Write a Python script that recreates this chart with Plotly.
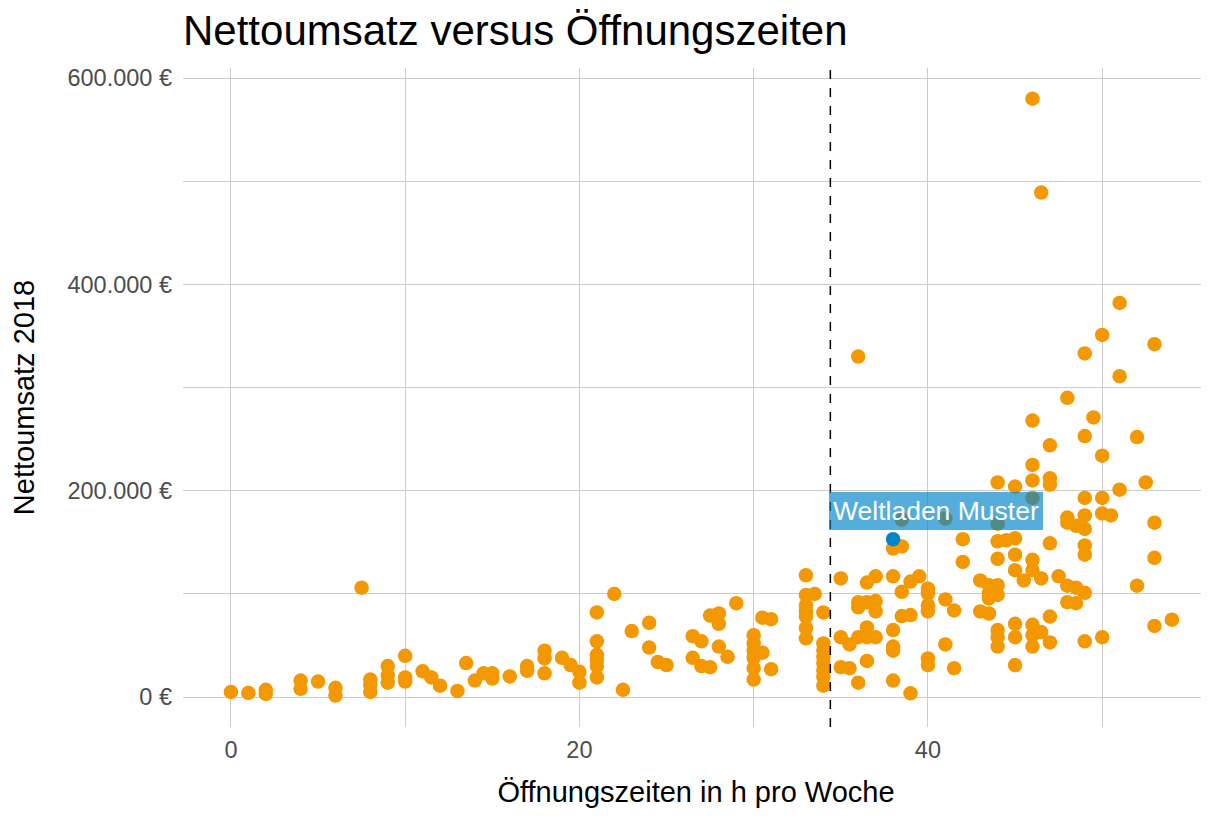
import plotly.graph_objects as go

# ---- data (hours per week, net sales 2018 in thousand €) ----
hours = [
    0, 1, 2, 2, 4, 4, 5, 6, 6, 7.5, 8, 8, 8, 9, 9, 9, 10, 10, 10, 11, 11.5, 12, 13, 13.5,
    14, 14.5, 15, 15, 16, 17, 17, 18, 18, 18, 19, 19.5, 20, 20,
    21, 21, 21, 21, 21, 21, 22, 22.5, 23, 24, 24, 24.5, 25, 26.5, 26.5, 27, 27,
    27.5, 27.5, 28, 28, 28, 28.5, 29,
    30, 30, 30, 30, 30, 30, 30.5, 30.5, 31, 31,
    33, 33, 33, 33, 33, 33, 33, 33.5,
    34, 34, 34, 34, 34, 34, 34, 34,
    35, 35, 35, 35.5, 35.5,
    36, 36, 36, 36, 36, 36.5, 36.5, 36.5, 36.5, 36.5,
    37, 37, 37, 37, 38, 38, 38, 38, 38, 38,
    38.5, 38.5, 38.5, 38.5, 39, 39, 39, 39.5,
    40, 40, 40, 40, 40, 40, 41, 41, 41, 41.5, 41.5, 42, 42, 43, 43,
    43.5, 43.5, 43.5, 43.5,
    44, 44, 44, 44, 44, 44, 44, 44, 44, 44.5,
    45, 45, 45, 45, 45, 45, 45, 45.5,
    46, 46, 46, 46, 46, 46, 46, 46, 46, 46, 46.5, 46.5, 46.5,
    47, 47, 47, 47, 47, 47, 47.5,
    48, 48, 48, 48, 48, 48.5, 48.5, 48.5,
    49, 49, 49, 49, 49, 49, 49, 49, 49, 49.5,
    50, 50, 50, 50, 50, 50.5, 51, 51, 51, 52, 52, 52.5,
    53, 53, 53, 53, 54,
]
sales_k = [
    5, 4, 7, 3, 16, 8, 15, 9, 1.5, 106, 17, 12, 5, 30, 21, 14, 40, 19, 15, 25, 19, 11, 6, 33,
    16, 23, 23, 18, 20, 30, 25.5, 45, 37.5, 23, 38, 31, 24.5, 14,
    82, 54, 41, 36, 30, 19, 100, 7, 64, 72, 48, 34, 31, 59, 38, 54, 30,
    79, 29, 81, 71, 49, 39, 91,
    60, 52, 45, 38, 28, 17, 77, 43, 75.5, 27,
    118, 99, 89, 83, 78, 67, 57, 100,
    82, 52, 45.5, 39, 32.6, 26, 19.7, 11,
    115, 58, 29, 51, 28,
    330, 92, 87, 58, 14, 111, 92, 67.5, 58, 35,
    117, 93, 83, 58, 144, 117, 65, 49, 45, 16,
    172, 146, 102, 78.5, 112, 79.5, 3.6, 117,
    105, 100.5, 89, 83, 37.5, 31, 173, 94.6, 51, 84, 28, 153, 131, 113, 83,
    108.5, 100.5, 95.6, 81,
    208, 168, 151, 134, 108.5, 99, 65, 58, 49, 152,
    204, 154, 138, 123, 71, 58, 31, 113,
    580, 268, 225, 210, 193, 133, 123, 70, 60, 49, 489, 115, 63,
    244, 212, 206, 149, 78, 53, 117,
    290, 174, 169, 108, 92, 166, 106, 91,
    333, 253, 193, 176, 163, 147, 138, 101, 54, 271,
    351, 234, 193, 178, 58, 176, 382, 311, 201, 252, 108, 208,
    342, 169, 135, 69, 75,
]
sales = [v * 1000 for v in sales_k]

highlight_name = "Weltladen Muster"
highlight_hours = 38
highlight_sales = 153000

mean_hours = 34.4

x_ticks = [0, 20, 40]
y_ticks = [0, 200000, 400000, 600000]
y_tick_labels = ["0 €", "200.000 €", "400.000 €", "600.000 €"]

ORANGE = "#F39800"
BLUE = "#0084C8"
FONT = "Liberation Sans, Arial, sans-serif"
GRID = "#CCCCCC"

W, H = 1201, 800

fig = go.Figure()
fig.add_trace(go.Scatter(
    x=hours, y=sales, mode="markers",
    marker=dict(color=ORANGE, size=14.5, line=dict(width=0)),
    hoverinfo="x+y", showlegend=False,
))
fig.add_trace(go.Scatter(
    x=[highlight_hours], y=[highlight_sales], mode="markers",
    marker=dict(color=BLUE, size=14.5, line=dict(width=0)),
    showlegend=False,
))

fig.add_shape(type="line", xref="x", yref="paper",
              x0=mean_hours, x1=mean_hours, y0=0, y1=1,
              line=dict(color="black", width=1.5, dash="dash"))

fig.add_annotation(
    x=highlight_hours + 2.45, y=highlight_sales + 27000,
    text=highlight_name, showarrow=False,
    font=dict(family=FONT, size=26.5, color="white"),
    bgcolor="rgba(0,132,200,0.67)", borderpad=4, borderwidth=0,
)

fig.update_layout(
    width=W, height=H,
    margin=dict(l=175, r=0, t=60, b=81, autoexpand=False),
    paper_bgcolor="white", plot_bgcolor="white",
    title=dict(text="Nettoumsatz versus Öffnungszeiten",
               font=dict(family=FONT, size=42, color="black"),
               x=175 / W, xanchor="left", y=1 - 8 / H, yanchor="top"),
    font=dict(family=FONT),
)
fig.update_xaxes(
    range=[-2.75, 56.13], automargin=False,
    tickvals=x_ticks, ticktext=[str(v) for v in x_ticks],
    tickfont=dict(family=FONT, size=23.5, color="#4D4D4D"),
    showgrid=True, gridcolor=GRID, gridwidth=1,
    minor=dict(dtick=10, tick0=0, showgrid=True, gridcolor=GRID, gridwidth=1),
    zeroline=False, showline=False, ticks="", ticklabelstandoff=6,
    title=dict(text="Öffnungszeiten in h pro Woche",
               font=dict(family=FONT, size=29, color="black"), standoff=30),
)
fig.update_yaxes(
    range=[-29000, 609700], automargin=False,
    tickvals=y_ticks, ticktext=y_tick_labels,
    tickfont=dict(family=FONT, size=23.5, color="#4D4D4D"),
    showgrid=True, gridcolor=GRID, gridwidth=1,
    minor=dict(dtick=100000, tick0=0, showgrid=True, gridcolor=GRID, gridwidth=1),
    zeroline=False, showline=False, ticks="", ticklabelstandoff=10,
    title=dict(text="Nettoumsatz 2018",
               font=dict(family=FONT, size=29, color="black"), standoff=27),
)

fig.write_html("out.html")
